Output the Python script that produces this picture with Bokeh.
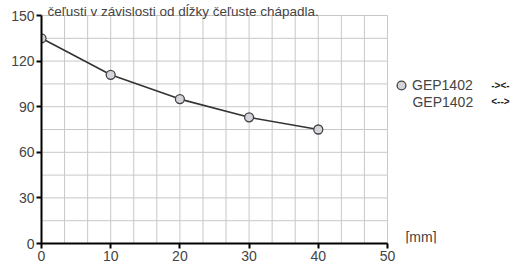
from bokeh.plotting import figure
from bokeh.models import Range1d, FixedTicker, Label, Legend, LegendItem, ColumnDataSource
from bokeh.embed import file_html
from bokeh.resources import INLINE

# data
length_mm = [0, 10, 20, 30, 40]
force = [135, 111, 95, 83, 75]
x_ticks = [0, 10, 20, 30, 40, 50]
y_ticks = [0, 30, 60, 90, 120, 150]
x_grid = [10 / 3 * i for i in range(16)]
y_grid = [15 * i for i in range(11)]
title_text = "čeľusti v závislosti od dĺžky čeľuste chápadla."
series_name = "GEP1402"
sym1 = "-><-"
sym2 = "<-->"
unit_text = "[mm]"

FONT = "Liberation Sans"
TXT = "#444444"
FS = "14px"

p = figure(width=519, height=263, output_backend="svg", toolbar_location=None,
           x_range=Range1d(0, 69.08), y_range=Range1d(0, 159.87),
           min_border_left=41, min_border_right=0, min_border_top=0, min_border_bottom=18)
p.outline_line_color = None
p.background_fill_color = "white"
p.border_fill_color = "white"
p.xgrid.visible = False
p.ygrid.visible = False

# grid lines restricted to the chart box
p.segment(x0=x_grid, y0=[0] * len(x_grid), x1=x_grid, y1=[150] * len(x_grid),
          line_color="#c8c8c8", line_width=1)
p.segment(x0=[0] * len(y_grid), y0=y_grid, x1=[50] * len(y_grid), y1=y_grid,
          line_color="#c8c8c8", line_width=1)

for ax, ticks, b, st in ((p.xaxis, x_ticks, (0, 50), 2), (p.yaxis, y_ticks, (0, 150), 2)):
    ax.ticker = FixedTicker(ticks=ticks)
    ax.bounds = b
    ax.axis_line_color = "black"
    ax.axis_line_width = 2
    ax.major_tick_line_color = "black"
    ax.major_tick_line_width = 2
    ax.major_tick_out = 5
    ax.major_tick_in = 0
    ax.minor_tick_line_color = None
    ax.major_label_text_font = FONT
    ax.major_label_text_font_size = FS
    ax.major_label_text_color = TXT
    ax.major_label_standoff = st

src = ColumnDataSource(dict(x=length_mm, y=force))
p.line("x", "y", source=src, line_color="#333333", line_width=1.6)
r = p.scatter("x", "y", source=src, size=9, fill_color="#d4d4dc", line_color="#444444", line_width=1.3)

legend = Legend(items=[LegendItem(label=series_name, renderers=[r])],
                location=(349, 147), orientation="vertical",
                label_text_font=FONT, label_text_font_size=FS, label_text_color=TXT,
                glyph_width=22, glyph_height=22, label_standoff=0, spacing=0,
                padding=0, margin=0, border_line_color=None, background_fill_alpha=0,
                label_height=22)
p.add_layout(legend, "center")

p.add_layout(Label(x=53.61, y=93.4, text=series_name, text_font=FONT, text_font_size=FS,
                   text_color=TXT, text_baseline="middle"))
p.add_layout(Label(x=0.87, y=152.6, text=title_text, text_font=FONT, text_font_size="13.5px",
                   text_color=TXT, text_baseline="alphabetic"))
p.add_layout(Label(x=52.6, y=4.6, text=unit_text, text_font=FONT, text_font_size=FS,
                   text_color=TXT, text_baseline="middle"))
p.add_layout(Label(x=65.0, y=103.9, text=sym1, text_font=FONT, text_font_size="10px",
                   text_font_style="bold", text_color="#222222", text_baseline="middle"))
p.add_layout(Label(x=65.0, y=93.4, text=sym2, text_font=FONT, text_font_size="10px",
                   text_font_style="bold", text_color="#222222", text_baseline="middle"))

open("out.html", "w").write(file_html(p, INLINE))
